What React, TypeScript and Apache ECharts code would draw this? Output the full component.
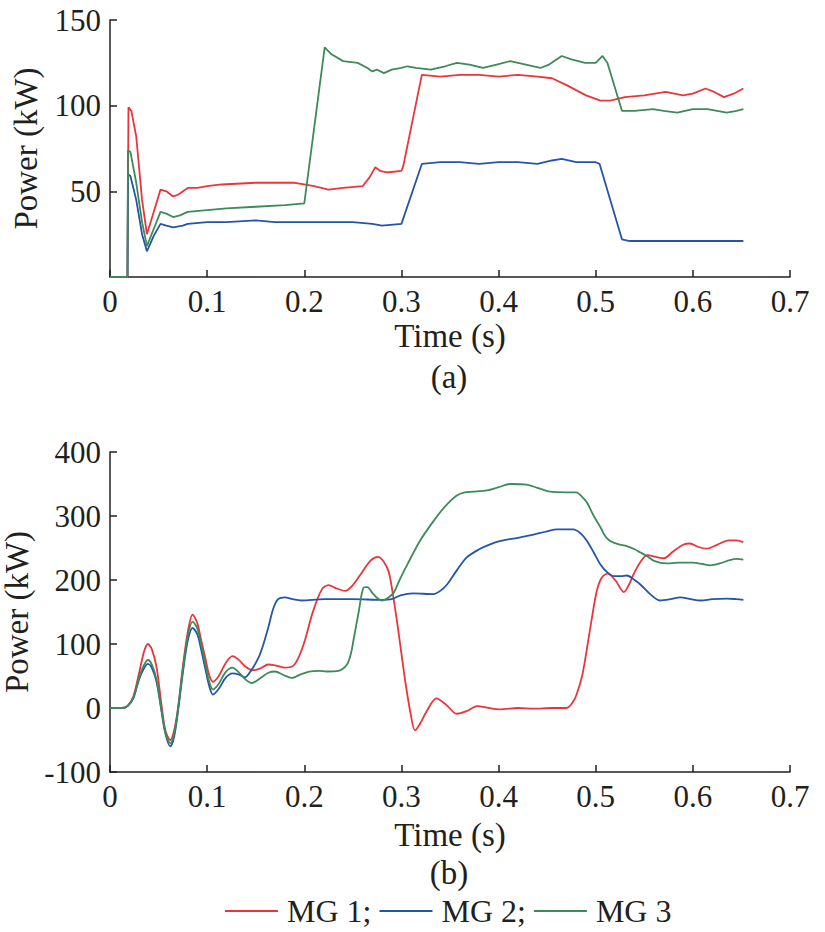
import { useEffect, useRef } from 'react';
import * as echarts from 'echarts';

// (a) power of each microgrid, [time s, kW]
const powerA_MG1: number[][] = [
    [0, 0], [0.018, 0], [0.019, 99], [0.022, 97], [0.027, 82], [0.033, 45], [0.038, 25],
    [0.045, 38], [0.052, 51], [0.058, 50], [0.065, 47], [0.070, 48], [0.080, 52], [0.090, 52],
    [0.100, 53], [0.115, 54], [0.150, 55], [0.170, 55], [0.190, 55], [0.200, 54], [0.210, 53],
    [0.225, 51], [0.240, 52], [0.260, 53], [0.267, 58], [0.273, 64], [0.278, 62], [0.285, 61],
    [0.300, 62], [0.302, 65], [0.321, 118], [0.340, 117], [0.360, 118], [0.380, 118], [0.400, 117],
    [0.420, 118], [0.440, 117], [0.455, 116], [0.470, 112], [0.490, 106], [0.505, 103], [0.515, 103],
    [0.530, 105], [0.550, 106], [0.572, 108], [0.590, 106], [0.600, 107], [0.613, 110], [0.622, 108],
    [0.632, 105], [0.642, 107], [0.652, 110],
];
const powerA_MG2: number[][] = [
    [0, 0], [0.018, 0], [0.0185, 60], [0.021, 59], [0.027, 45], [0.033, 25], [0.038, 15],
    [0.045, 24], [0.052, 31], [0.058, 30], [0.065, 29], [0.075, 30], [0.080, 31], [0.100, 32],
    [0.120, 32], [0.150, 33], [0.170, 32], [0.200, 32], [0.250, 32], [0.270, 31], [0.280, 30],
    [0.300, 31], [0.321, 66], [0.340, 67], [0.360, 67], [0.380, 66], [0.400, 67], [0.420, 67],
    [0.440, 66], [0.455, 68], [0.465, 69], [0.480, 67], [0.500, 67], [0.504, 66], [0.527, 22],
    [0.535, 21], [0.560, 21], [0.600, 21], [0.630, 21], [0.652, 21],
];
const powerA_MG3: number[][] = [
    [0, 0], [0.018, 0], [0.0185, 74], [0.021, 73], [0.027, 55], [0.033, 32], [0.038, 18],
    [0.045, 28], [0.052, 38], [0.058, 37], [0.065, 35], [0.072, 36], [0.080, 38], [0.100, 39],
    [0.120, 40], [0.150, 41], [0.180, 42], [0.200, 43], [0.221, 134], [0.228, 130], [0.240, 126],
    [0.255, 125], [0.265, 122], [0.270, 120], [0.275, 121], [0.282, 119], [0.290, 121], [0.300, 122],
    [0.306, 123], [0.315, 122], [0.330, 121], [0.345, 123], [0.357, 125], [0.370, 124], [0.384, 122],
    [0.398, 124], [0.412, 126], [0.428, 124], [0.443, 122], [0.452, 124], [0.465, 129], [0.475, 127],
    [0.489, 125], [0.500, 125], [0.507, 129], [0.512, 125], [0.527, 97], [0.540, 97], [0.559, 98],
    [0.570, 97], [0.584, 96], [0.600, 98], [0.615, 98], [0.635, 96], [0.645, 97], [0.652, 98],
];

// (b)
const powerB_MG1: number[][] = [
    [0, 0], [0.012, 0], [0.018, 3], [0.024, 18], [0.030, 55], [0.035, 88], [0.039, 100],
    [0.043, 92], [0.048, 63], [0.053, 5], [0.057, -35], [0.062, -50], [0.066, -35], [0.070, 0],
    [0.075, 65], [0.080, 118], [0.085, 146], [0.090, 132], [0.094, 105], [0.098, 79], [0.102, 52],
    [0.106, 41], [0.112, 50], [0.119, 70], [0.126, 81], [0.132, 76], [0.140, 64], [0.147, 59],
    [0.155, 62], [0.163, 68], [0.172, 66], [0.180, 63], [0.190, 68], [0.199, 98], [0.209, 151],
    [0.218, 185], [0.225, 192], [0.233, 187], [0.242, 183], [0.250, 192], [0.259, 211], [0.268, 230],
    [0.276, 236], [0.282, 228], [0.287, 212], [0.291, 180], [0.295, 140], [0.300, 85], [0.304, 41],
    [0.309, -5], [0.314, -35], [0.319, -25], [0.326, -5], [0.336, 15], [0.346, 5], [0.357, -9],
    [0.367, -5], [0.378, 3], [0.390, 0], [0.402, -2], [0.420, 0], [0.436, -1], [0.455, 0],
    [0.470, 0], [0.476, 8], [0.480, 20], [0.486, 50], [0.491, 93], [0.496, 140], [0.501, 182],
    [0.506, 203], [0.512, 210], [0.520, 200], [0.529, 181], [0.535, 195], [0.539, 209], [0.546, 228],
    [0.553, 239], [0.562, 236], [0.570, 234], [0.580, 245], [0.590, 255], [0.597, 257], [0.605, 252],
    [0.614, 249], [0.625, 255], [0.637, 262], [0.645, 262], [0.652, 259],
];
const powerB_MG2: number[][] = [
    [0, 0], [0.012, 0], [0.018, 3], [0.024, 15], [0.030, 45], [0.035, 62], [0.039, 69],
    [0.043, 63], [0.048, 40], [0.053, -5], [0.057, -40], [0.062, -60], [0.066, -45], [0.070, -5],
    [0.075, 55], [0.080, 105], [0.085, 125], [0.090, 115], [0.094, 90], [0.098, 62], [0.102, 35],
    [0.106, 21], [0.112, 30], [0.119, 47], [0.126, 54], [0.133, 52], [0.139, 48], [0.145, 58],
    [0.153, 79], [0.158, 100], [0.163, 126], [0.168, 155], [0.173, 170], [0.180, 173], [0.188, 170],
    [0.197, 168], [0.220, 170], [0.250, 170], [0.280, 169], [0.290, 170], [0.299, 176], [0.312, 179],
    [0.333, 178], [0.340, 183], [0.347, 193], [0.357, 215], [0.367, 235], [0.380, 248], [0.390, 255],
    [0.402, 261], [0.420, 266], [0.436, 271], [0.450, 276], [0.460, 279], [0.477, 279], [0.485, 272],
    [0.491, 261], [0.498, 243], [0.505, 224], [0.512, 212], [0.519, 206], [0.526, 206], [0.532, 207],
    [0.540, 200], [0.546, 193], [0.556, 178], [0.566, 168], [0.577, 170], [0.587, 173], [0.598, 170],
    [0.608, 168], [0.620, 170], [0.635, 171], [0.645, 170], [0.652, 169],
];
const powerB_MG3: number[][] = [
    [0, 0], [0.012, 0], [0.018, 3], [0.024, 16], [0.030, 48], [0.035, 67], [0.039, 75],
    [0.043, 68], [0.048, 44], [0.053, -3], [0.057, -38], [0.062, -55], [0.066, -40], [0.070, -2],
    [0.075, 60], [0.080, 112], [0.085, 135], [0.090, 124], [0.094, 98], [0.098, 70], [0.102, 42],
    [0.106, 29], [0.112, 38], [0.119, 56], [0.126, 63], [0.133, 55], [0.140, 44], [0.146, 39],
    [0.155, 47], [0.163, 55], [0.170, 57], [0.178, 52], [0.187, 47], [0.197, 53], [0.205, 57],
    [0.215, 58], [0.223, 57], [0.235, 58], [0.244, 68], [0.248, 85], [0.251, 109], [0.256, 150],
    [0.261, 188], [0.265, 189], [0.270, 180], [0.275, 172], [0.280, 168], [0.286, 172], [0.292, 180],
    [0.299, 203], [0.306, 224], [0.319, 261], [0.333, 292], [0.345, 315], [0.357, 332], [0.365, 337],
    [0.374, 338], [0.388, 340], [0.400, 345], [0.412, 350], [0.429, 349], [0.440, 344], [0.453, 338],
    [0.470, 337], [0.480, 337], [0.486, 330], [0.491, 321], [0.498, 300], [0.505, 282], [0.510, 268],
    [0.515, 261], [0.523, 256], [0.532, 253], [0.540, 248], [0.546, 243], [0.553, 237], [0.560, 230],
    [0.573, 226], [0.585, 227], [0.600, 227], [0.610, 225], [0.618, 223], [0.628, 226], [0.638, 231],
    [0.645, 233], [0.652, 232],
];

const seriesNames = ['MG 1;', 'MG 2;', 'MG 3'];
const seriesColors = ['#e8363c', '#2356a8', '#3d8a5a'];
const xTicks = { min: 0, max: 0.7, interval: 0.1 };

const FONT = "'Liberation Serif', 'Times New Roman', Times, serif";
const INK = '#231f20';

function axisBase() {
    return {
        axisLine: { show: true, onZero: false, lineStyle: { color: INK, width: 1.5 } },
        axisTick: { show: true, inside: true, length: 7, lineStyle: { color: INK, width: 1.5 } },
        splitLine: { show: false },
    };
}

export default function App() {
    const chartRef = useRef<HTMLDivElement>(null);

    useEffect(() => {
        if (!chartRef.current) return;
        const chart = echarts.init(chartRef.current, undefined, { renderer: 'svg' });

        const xAxis = (gridIndex: number, gap: number) => ({
            type: 'value' as const,
            gridIndex,
            ...xTicks,
            ...axisBase(),
            name: 'Time (s)',
            nameLocation: 'middle' as const,
            nameGap: gap,
            nameTextStyle: { fontFamily: FONT, fontSize: 33, color: INK },
            axisLabel: {
                fontFamily: FONT,
                fontSize: 31,
                color: INK,
                margin: 9,
                formatter: (v: number) => (v === 0 ? '0' : v.toFixed(1)),
            },
        });

        const yAxis = (gridIndex: number, min: number, max: number, interval: number, hideZero: boolean) => ({
            type: 'value' as const,
            gridIndex,
            min,
            max,
            interval,
            ...axisBase(),
            name: 'Power (kW)',
            nameLocation: 'middle' as const,
            nameGap: 68,
            nameTextStyle: { fontFamily: FONT, fontSize: 33, color: INK },
            axisLabel: {
                fontFamily: FONT,
                fontSize: 31,
                color: INK,
                margin: 9,
                formatter: (v: number) => (hideZero && v === 0 ? '' : String(v)),
            },
        });

        const line = (name: string, color: string, data: number[][], xi: number, smooth: number | boolean) => ({
            name,
            type: 'line' as const,
            xAxisIndex: xi,
            yAxisIndex: xi,
            data,
            smooth,
            symbol: 'none',
            color,
            lineStyle: { color, width: 1.8 },
        });

        chart.setOption({
            animation: false,
            grid: [
                { left: 110, top: 20, width: 680, height: 257, containLabel: false, outerBoundsMode: 'none' },
                { left: 110, top: 452, width: 680, height: 320, containLabel: false, outerBoundsMode: 'none' },
            ],
            xAxis: [xAxis(0, 42), xAxis(1, 46)],
            yAxis: [yAxis(0, 0, 150, 50, true), yAxis(1, -100, 400, 100, false)],
            legend: {
                data: seriesNames,
                left: 225,
                top: 895,
                padding: 0,
                icon: 'rect',
                itemWidth: 53,
                itemHeight: 2,
                itemGap: 8,
                textStyle: { fontFamily: FONT, fontSize: 32, color: INK, padding: [0, 0, 0, 4] },
            },
            graphic: [
                {
                    type: 'text',
                    x: 449,
                    y: 377,
                    style: { text: '(a)', fontFamily: FONT, fontSize: 33, fill: INK, textAlign: 'center', textVerticalAlign: 'middle' },
                },
                {
                    type: 'text',
                    x: 449,
                    y: 873,
                    style: { text: '(b)', fontFamily: FONT, fontSize: 33, fill: INK, textAlign: 'center', textVerticalAlign: 'middle' },
                },
            ],
            series: [
                line(seriesNames[0], seriesColors[0], powerA_MG1, 0, false),
                line(seriesNames[1], seriesColors[1], powerA_MG2, 0, false),
                line(seriesNames[2], seriesColors[2], powerA_MG3, 0, false),
                line(seriesNames[0], seriesColors[0], powerB_MG1, 1, 0.3),
                line(seriesNames[1], seriesColors[1], powerB_MG2, 1, 0.3),
                line(seriesNames[2], seriesColors[2], powerB_MG3, 1, 0.3),
            ],
        });

        return () => {
            chart.dispose();
        };
    }, []);

    return (
        <div
            ref={chartRef}
            style={{ position: 'absolute', left: 0, top: 0, width: '825px', height: '932px', background: '#fff' }}
        />
    );
}
